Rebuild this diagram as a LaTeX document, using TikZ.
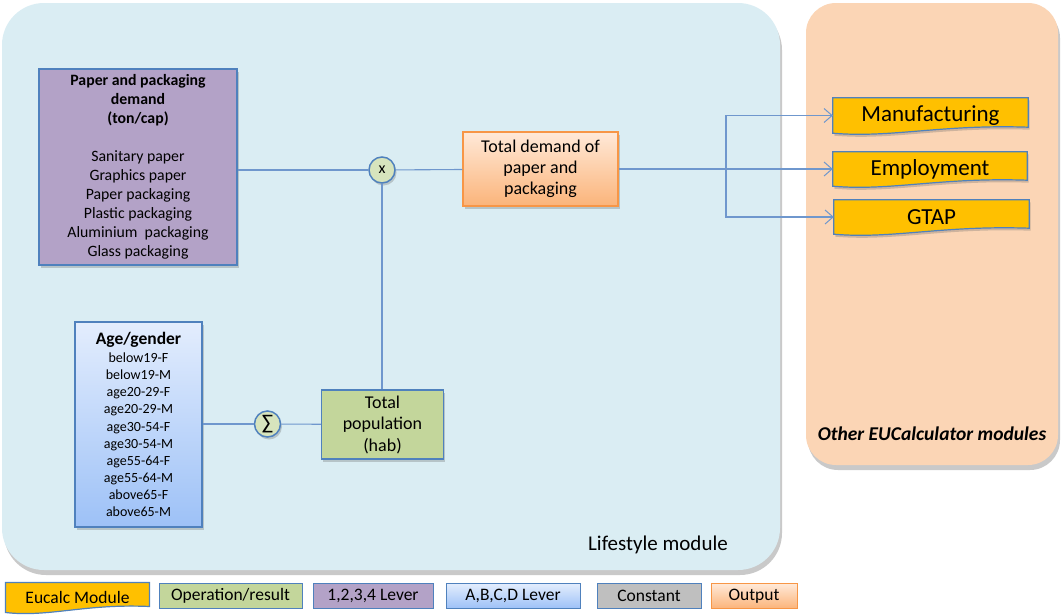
\documentclass[tikz,border=0pt]{standalone}
\usepackage{fontspec}
\setmainfont{Carlito}
\usetikzlibrary{shadows,calc,arrows.meta,backgrounds}

\definecolor{lifebg}{HTML}{DAEDF3}
\definecolor{otherbg}{HTML}{FBD5B5}
\definecolor{boxblue}{HTML}{4F81BD}
\definecolor{linkblue}{HTML}{6F97CD}
\definecolor{lever}{HTML}{B3A2C7}
\definecolor{opgreen}{HTML}{C3D69B}
\definecolor{circgreen}{HTML}{D7E4BD}
\definecolor{eucyellow}{HTML}{FFC000}
\definecolor{outorange}{HTML}{F79646}
\definecolor{outtop}{HTML}{FFE9D8}
\definecolor{outbot}{HTML}{FBB47A}
\definecolor{agetop}{HTML}{E3EDFD}
\definecolor{agebot}{HTML}{9DC1F7}
\definecolor{constgray}{HTML}{BFBFBF}

\pgfdeclarelayer{panels}
\pgfdeclarelayer{shapes}
\pgfsetlayers{panels,shapes,main}

\tikzset{
  softshadow/.style={drop shadow={shadow xshift=1.5pt, shadow yshift=-2.5pt, opacity=0.3, fill=black!60}},
  panelshadow/.style={drop shadow={shadow xshift=2pt, shadow yshift=-5pt, opacity=0.35, fill=black!60}},
  box/.style={draw=boxblue, line width=1.2pt, inner sep=0pt, align=center, softshadow},
  opcircle/.style={circle, draw=boxblue, line width=1.5pt, fill=circgreen, minimum size=26pt,
    inner sep=0pt, softshadow, font=\fontsize{16}{16}\selectfont},
  module/.style={inner sep=0pt, align=center, font=\fontsize{23}{23}\selectfont},
  wavy/.style={draw=boxblue, line width=1.2pt, fill=eucyellow},
  conn/.style={draw=linkblue, line width=1.1pt},
  arr/.style={-{Straight Barb[length=8pt,width=14pt,line width=1pt]}},
  legend/.style={draw=boxblue, line width=1pt, inner sep=0pt, minimum height=25pt,
    font=\fontsize{17.5}{17.5}\selectfont}
}

% document-like outline with a wavy lower edge, drawn behind a node
\newcommand\wavybox[2][softshadow]{%
  \begin{pgfonlayer}{shapes}
    \draw[wavy,#1] (#2.north west) -- (#2.north east) -- ($(#2.south east)+(0,-6)$)
      .. controls ($(#2.south east)!0.45!(#2.south west)+(0,-9)$)
      and ($(#2.south east)!0.7!(#2.south west)+(0,5)$) .. (#2.south west) -- cycle;
  \end{pgfonlayer}}

\begin{document}
\begin{tikzpicture}[x=1pt,y=-1pt]
\useasboundingbox (0,0) rectangle (1061,614);

% page ground and module panels
\begin{pgfonlayer}{panels}
  \fill[white] (0,0) rectangle (1061,614);
  \fill[lifebg, rounded corners=42pt, panelshadow] (2,3) rectangle (780,570);
  \fill[otherbg, rounded corners=30pt, panelshadow] (806,3) rectangle (1058,465);
\end{pgfonlayer}

% lever inputs
\node[box, fill=lever, minimum width=198pt, minimum height=196pt,
      font=\fontsize{15.8}{19}\selectfont] (demand) at (138,167)
  {\textbf{Paper and packaging}\\\textbf{demand}\\\textbf{(ton/cap)}\\[19pt]
   Sanitary paper\\Graphics paper\\Paper packaging\\Plastic packaging\\
   Aluminium\ \ packaging\\Glass packaging};

\node[box, top color=agetop, bottom color=agebot, minimum width=127pt, minimum height=205pt,
      font=\fontsize{14}{17.1}\selectfont] (age) at (138.5,424.5)
  {{\fontsize{17.5}{17}\selectfont\bfseries Age/gender}\\[1pt]
   below19-F\\below19-M\\age20-29-F\\age20-29-M\\age30-54-F\\age30-54-M\\
   age55-64-F\\age55-64-M\\above65-F\\above65-M};

% operations and results
\node[opcircle] (mul) at (382,170) {x};
\node[opcircle, font=\fontsize{21}{21}\selectfont] (sum) at (267.5,424) {∑};

\node[box, fill=opgreen, minimum width=122pt, minimum height=69pt,
      font=\fontsize{18}{21.5}\selectfont] (pop) at (382.5,424.5)
  {Total\\population\\(hab)};

\node[box, draw=outorange, top color=outtop, bottom color=outbot,
      minimum width=155pt, minimum height=74pt,
      font=\fontsize{18}{21}\selectfont] (total) at (540.5,169)
  {Total demand of\\paper and\\packaging};

% other modules
\node[module, minimum width=195pt, minimum height=35pt] (manu) at (930.5,115.5) {Manufacturing};
\node[module, minimum width=194pt, minimum height=34pt] (employ) at (930,169) {Employment};
\node[module, minimum width=195pt, minimum height=34pt] (gtap) at (931.5,217) {GTAP};
\wavybox{manu}
\wavybox{employ}
\wavybox{gtap}

% panel titles
\node[font=\fontsize{21}{21}\selectfont] (lifelabel) at (658,545) {Lifestyle module};
\node[font=\fontsize{19.5}{19.5}\selectfont\bfseries\itshape] (otherlabel) at (932,434)
  {Other EUCalculator modules};

% connectors
\draw[conn] (demand.east |- mul) -- (mul);
\draw[conn] (mul) -- (total);
\draw[conn] (mul) -- (mul |- pop.north);
\draw[conn] (age.east |- sum) -- (sum);
\draw[conn] (sum) -- (pop);

\coordinate (split) at (726,169);
\draw[conn] (total.east) -- (split);
\draw[conn,arr] (split) -- (employ.west);
\draw[conn,arr] (split) |- (manu.west);
\draw[conn,arr] (split) |- (gtap.west);

% legend
\node[legend, draw=none, minimum width=143pt, minimum height=29pt] (lgmod) at (77.5,597.5) {Eucalc Module};
\wavybox[]{lgmod}
\node[legend, fill=opgreen, minimum width=143pt] (lgop) at (230.5,596) {Operation/result};
\node[legend, fill=lever, minimum width=120pt] (lglev) at (373,596) {1,2,3,4 Lever};
\node[legend, top color=agetop, bottom color=agebot, minimum width=134pt] (lgabc) at (513,596) {A,B,C,D Lever};
\node[legend, fill=constgray, minimum width=104pt] (lgcon) at (649,596) {Constant};
\node[legend, draw=outorange, top color=outtop, bottom color=outbot, minimum width=86pt] (lgout) at (754,596) {Output};
\end{tikzpicture}
\end{document}
